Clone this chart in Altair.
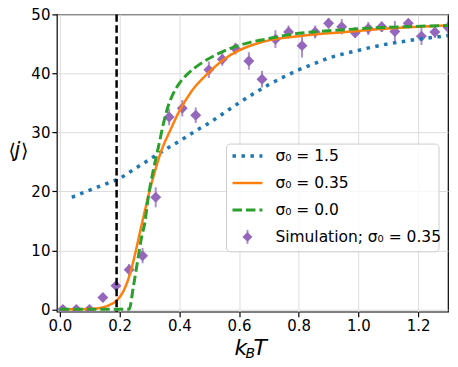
import altair as alt
import pandas as pd

# ---- data ----
sim_x = [0.010, 0.055, 0.099, 0.144, 0.188, 0.232, 0.277, 0.321, 0.366, 0.410,
         0.455, 0.499, 0.544, 0.588, 0.633, 0.677, 0.722, 0.766, 0.811, 0.855,
         0.900, 0.944, 0.989, 1.033, 1.078, 1.122, 1.167, 1.211, 1.256, 1.300]
sim_y = [0.0, 0.0, 0.0, 2.0, 4.0, 6.7, 9.1, 19.0, 32.6, 34.1,
         32.9, 40.6, 42.4, 44.2, 42.1, 39.0, 45.8, 47.0, 44.7, 47.0,
         48.5, 47.9, 46.9, 47.6, 47.9, 47.1, 48.5, 46.3, 47.0, 47.8]
sim_err = [0.1, 0.1, 0.1, 0.3, 0.4, 1.0, 1.3, 1.7, 1.4, 1.4,
           1.3, 1.4, 1.1, 1.0, 1.5, 1.4, 1.5, 1.1, 2.0, 1.1,
           0.9, 1.3, 0.9, 1.1, 0.9, 1.8, 0.7, 1.5, 1.0, 1.0]

blue_x = [0.04, 0.10, 0.15, 0.20, 0.25, 0.30, 0.35, 0.40, 0.45, 0.50, 0.55,
          0.60, 0.65, 0.70, 0.75, 0.80, 0.85, 0.90, 0.95, 1.00, 1.05, 1.10,
          1.15, 1.20, 1.25, 1.30]
blue_y = [19.0, 20.2, 21.2, 22.2, 23.8, 25.4, 27.0, 28.5, 30.1, 31.6, 33.3,
          35.0, 36.6, 38.1, 39.4, 40.6, 41.6, 42.6, 43.3, 43.9, 44.5, 45.0,
          45.4, 45.8, 46.1, 46.4]

orange_x = [0.00, 0.10, 0.13, 0.16, 0.19, 0.21, 0.235, 0.257, 0.27, 0.285,
            0.30, 0.32, 0.34, 0.37, 0.40, 0.44, 0.50, 0.55, 0.60, 0.65, 0.70,
            0.80, 0.90, 1.00, 1.10, 1.20, 1.30]
orange_y = [0.0, 0.05, 0.2, 0.6, 1.5, 2.8, 6.0, 10.5, 13.5, 16.8,
            20.0, 23.7, 26.9, 30.4, 33.6, 36.9, 40.2, 42.4, 43.9, 44.9, 45.6,
            46.3, 46.8, 47.2, 47.6, 47.9, 48.1]

green_x = [0.00, 0.232, 0.246, 0.259, 0.274, 0.285, 0.296, 0.313, 0.33, 0.346,
           0.363, 0.38, 0.40, 0.43, 0.47, 0.525, 0.58, 0.64, 0.70, 0.75, 0.80,
           0.87, 0.95, 1.05, 1.15, 1.30]
green_y = [0.0, 0.0, 3.8, 7.8, 12.3, 14.8, 19.0, 23.6, 27.5, 31.3,
           34.5, 36.6, 38.3, 40.0, 41.6, 43.2, 44.4, 45.3, 45.9, 46.4, 46.8,
           47.1, 47.4, 47.7, 47.9, 48.1]

vline_x = [0.19]

x_ticks = [0.0, 0.2, 0.4, 0.6, 0.8, 1.0, 1.2]
y_ticks = [0, 10, 20, 30, 40, 50]

legend_labels = ["σ₀ = 1.5", "σ₀ = 0.35", "σ₀ = 0.0", "Simulation; σ₀ = 0.35"]

FONT = "DejaVu Sans"
BLUE, ORANGE, GREEN, PURPLE = "#1f77b4", "#ff7f0e", "#2ca02c", "#9467bd"

sim = pd.DataFrame({"x": sim_x, "y": sim_y, "err": sim_err})
sim["lo"] = sim["y"] - sim["err"]
sim["hi"] = sim["y"] + sim["err"]
blue = pd.DataFrame({"x": blue_x, "y": blue_y})
orange = pd.DataFrame({"x": orange_x, "y": orange_y})
green = pd.DataFrame({"x": green_x, "y": green_y})
vline = pd.DataFrame({"x": vline_x})
one = pd.DataFrame({"a": [0]})

xscale = alt.Scale(domain=[-0.01, 1.3], nice=False, zero=False)
yscale = alt.Scale(domain=[-0.4, 50], nice=False, zero=False)

X = alt.X("x:Q", scale=xscale,
          axis=alt.Axis(values=x_ticks, format=".1f", title=None))
Y = alt.Y("y:Q", scale=yscale,
          axis=alt.Axis(values=y_ticks, format="d", title=None))

errbars = alt.Chart(sim).mark_rule(color=PURPLE, strokeWidth=2, opacity=0.75, clip=True).encode(
    x=X, y=alt.Y("lo:Q", scale=yscale), y2="hi:Q")
points = alt.Chart(sim).mark_point(shape="diamond", filled=True, size=120, color=PURPLE,
                                   opacity=1, clip=True).encode(x=X, y=Y)

l_blue = alt.Chart(blue).mark_line(color=BLUE, strokeWidth=3.5, strokeDash=[3.5, 5.5],
                                   strokeCap="butt", interpolate="monotone", clip=True).encode(x=X, y=Y)
l_orange = alt.Chart(orange).mark_line(color=ORANGE, strokeWidth=2.5,
                                       interpolate="monotone", clip=True).encode(x=X, y=Y)
l_green = alt.Chart(green).mark_line(color=GREEN, strokeWidth=3, strokeDash=[9.5, 4],
                                     interpolate="monotone", clip=True).encode(x=X, y=Y)
l_vline = alt.Chart(vline).mark_rule(color="black", strokeWidth=2.5, strokeDash=[7.5, 3.5]).encode(
    x=alt.X("x:Q", scale=xscale))

# ---- titles ----
yt_l = alt.Chart(one).mark_text(text="⟨", font=FONT, fontSize=19,
                                align="left", baseline="middle").encode(
    x=alt.value(-48.5), y=alt.value(137))
yt_j = alt.Chart(one).mark_text(text="j", font=FONT, fontSize=21, fontStyle="italic",
                                align="center", baseline="middle").encode(
    x=alt.value(-39.5), y=alt.value(137))
yt_r = alt.Chart(one).mark_text(text="⟩", font=FONT, fontSize=19,
                                align="left", baseline="middle").encode(
    x=alt.value(-36), y=alt.value(137))
xt_k = alt.Chart(one).mark_text(text="k", font=FONT, fontSize=22, fontStyle="italic",
                                align="left", baseline="alphabetic").encode(
    x=alt.value(178), y=alt.value(341))
xt_B = alt.Chart(one).mark_text(text="B", font=FONT, fontSize=14, fontStyle="italic",
                                align="left", baseline="alphabetic").encode(
    x=alt.value(189), y=alt.value(344))
xt_T = alt.Chart(one).mark_text(text="T", font=FONT, fontSize=22, fontStyle="italic",
                                align="left", baseline="alphabetic").encode(
    x=alt.value(197), y=alt.value(341))

# ---- legend ----
LX0, LX1, LY0, LY1 = 170, 383, 130, 238
rows = [142, 169, 196, 223]
SX0, SX1, TX = 176, 206, 219
leg_box = alt.Chart(one).mark_rect(fill="white", fillOpacity=0.8, stroke="#cccccc",
                                   strokeWidth=1, cornerRadius=4).encode(
    x=alt.value(LX0), x2=alt.value(LX1), y=alt.value(LY0), y2=alt.value(LY1))
leg_blue = alt.Chart(one).mark_rule(color=BLUE, strokeWidth=3.5, strokeDash=[3.5, 5.5],
                                    strokeCap="butt").encode(
    x=alt.value(SX0), x2=alt.value(SX1), y=alt.value(rows[0]))
leg_orange = alt.Chart(one).mark_rule(color=ORANGE, strokeWidth=2.5).encode(
    x=alt.value(SX0), x2=alt.value(SX1), y=alt.value(rows[1]))
leg_green = alt.Chart(one).mark_rule(color=GREEN, strokeWidth=3, strokeDash=[9.5, 4]).encode(
    x=alt.value(SX0), x2=alt.value(SX1), y=alt.value(rows[2]))
leg_err = alt.Chart(one).mark_rule(color=PURPLE, strokeWidth=2, opacity=0.75).encode(
    x=alt.value((SX0 + SX1) / 2), y=alt.value(rows[3] - 7), y2=alt.value(rows[3] + 7))
leg_pt = alt.Chart(one).mark_point(shape="diamond", filled=True, size=100, color=PURPLE,
                                   opacity=1).encode(
    x=alt.value((SX0 + SX1) / 2), y=alt.value(rows[3]))
leg_texts = [
    alt.Chart(one).mark_text(text=lab, font=FONT, fontSize=15.5, align="left",
                             baseline="middle", color="black").encode(
        x=alt.value(TX), y=alt.value(r))
    for lab, r in zip(legend_labels, rows)
]

chart = alt.layer(
    errbars, points, l_blue, l_orange, l_green, l_vline,
    yt_l, yt_j, yt_r, xt_k, xt_B, xt_T,
    leg_box, leg_blue, leg_orange, leg_green, leg_err, leg_pt, *leg_texts
).properties(
    width=392, height=298,
    autosize=alt.AutoSizeParams(type="none"),
    padding={"left": 49, "top": 6, "right": 2, "bottom": 50},
).configure_view(
    stroke="black", strokeWidth=1.2
).configure_axis(
    domain=False, grid=True, gridColor="#dddddd", gridWidth=1,
    ticks=True, tickColor="black", tickSize=5, tickWidth=1.2,
    labelFont=FONT, labelFontSize=15, labelColor="black", labelPadding=2,
)

chart.save("out.html", embed_options={"renderer": "svg", "actions": False})
